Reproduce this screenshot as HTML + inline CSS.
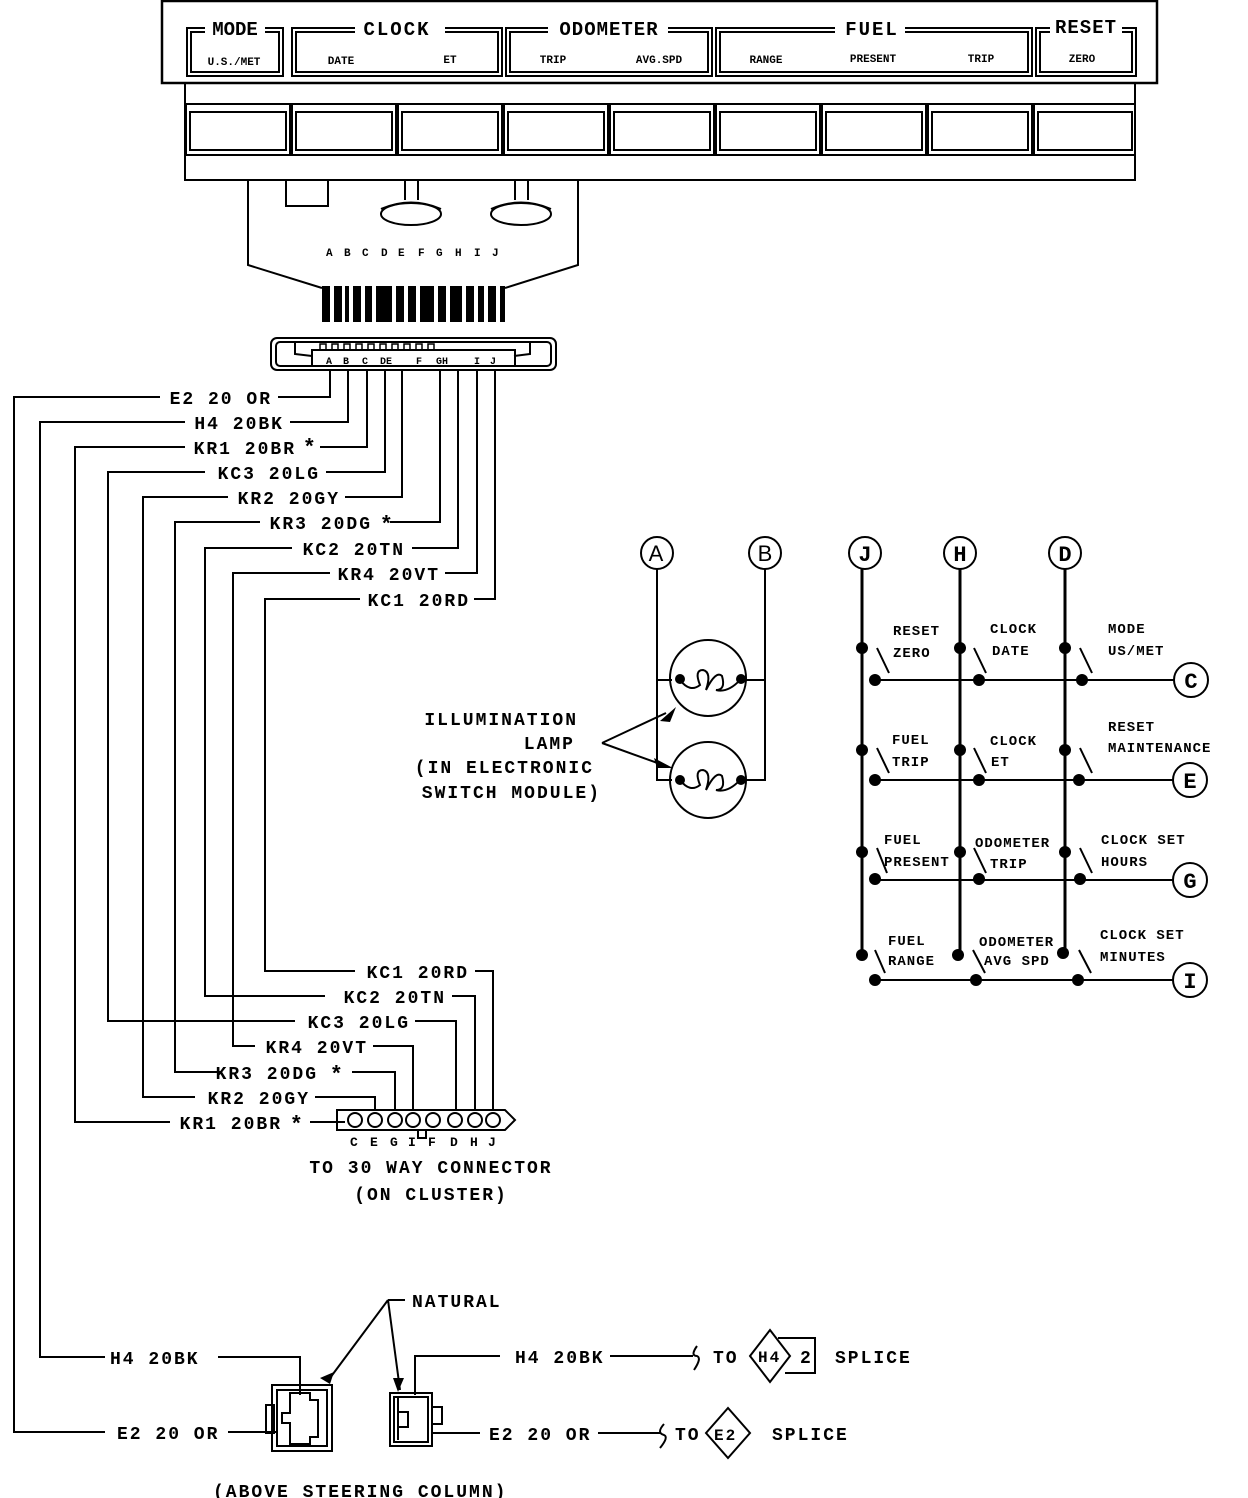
<!DOCTYPE html>
<html><head><meta charset="utf-8"><style>
html,body{margin:0;padding:0;background:#fff}
svg{display:block}
text{font-family:"Liberation Mono",monospace;font-weight:bold;fill:#000}
.w{font-size:18px;letter-spacing:2px}
.s{font-size:14px;letter-spacing:1px}
.t{font-size:11px}
</style></head><body>
<svg width="1248" height="1498" viewBox="0 0 1248 1498" xmlns="http://www.w3.org/2000/svg" stroke="#000" fill="none" stroke-width="2">
<!-- top label panel -->
<rect x="162" y="1" width="995" height="82" stroke-width="2.5"/>
<g stroke-width="2">
<rect x="187" y="28" width="96" height="48"/><rect x="191" y="32" width="88" height="40"/>
<rect x="292" y="28" width="210" height="48"/><rect x="296" y="32" width="202" height="40"/>
<rect x="506" y="28" width="206" height="48"/><rect x="510" y="32" width="198" height="40"/>
<rect x="716" y="28" width="316" height="48"/><rect x="720" y="32" width="308" height="40"/>
<rect x="1036" y="28" width="100" height="48"/><rect x="1040" y="32" width="92" height="40"/>
</g>
<g stroke="none">
<rect x="205" y="20" width="60" height="16" fill="#fff"/>
<rect x="355" y="20" width="90" height="16" fill="#fff"/>
<rect x="548" y="20" width="120" height="16" fill="#fff"/>
<rect x="835" y="20" width="70" height="16" fill="#fff"/>
<rect x="1050" y="14" width="72" height="22" fill="#fff"/>
</g>
<text x="235" y="35" text-anchor="middle" style="font-size:19px" stroke="none">MODE</text>
<text x="397" y="35" text-anchor="middle" style="font-size:19px;letter-spacing:2px" stroke="none">CLOCK</text>
<text x="609" y="35" text-anchor="middle" style="font-size:19px;letter-spacing:1px" stroke="none">ODOMETER</text>
<text x="872" y="35" text-anchor="middle" style="font-size:19px;letter-spacing:2px" stroke="none">FUEL</text>
<text x="1086" y="33" text-anchor="middle" style="font-size:19px;letter-spacing:1px" stroke="none">RESET</text>
<g class="t" stroke="none">
<text x="234" y="65" text-anchor="middle" class="t">U.S./MET</text>
<text x="341" y="64" text-anchor="middle" class="t">DATE</text>
<text x="450" y="63" text-anchor="middle" class="t">ET</text>
<text x="553" y="63" text-anchor="middle" class="t">TRIP</text>
<text x="659" y="63" text-anchor="middle" class="t">AVG.SPD</text>
<text x="766" y="63" text-anchor="middle" class="t">RANGE</text>
<text x="873" y="62" text-anchor="middle" class="t">PRESENT</text>
<text x="981" y="62" text-anchor="middle" class="t">TRIP</text>
<text x="1082" y="62" text-anchor="middle" class="t">ZERO</text>
</g>
<!-- button row -->
<line x1="185" y1="84" x2="185" y2="180"/><line x1="1135" y1="84" x2="1135" y2="180"/>
<rect x="185" y="155" width="950" height="25"/>
<g>
<rect x="186" y="104" width="104" height="51"/><rect x="190" y="112" width="96" height="38"/>
<rect x="292" y="104" width="104" height="51"/><rect x="296" y="112" width="96" height="38"/>
<rect x="398" y="104" width="104" height="51"/><rect x="402" y="112" width="96" height="38"/>
<rect x="504" y="104" width="104" height="51"/><rect x="508" y="112" width="96" height="38"/>
<rect x="610" y="104" width="104" height="51"/><rect x="614" y="112" width="96" height="38"/>
<rect x="716" y="104" width="104" height="51"/><rect x="720" y="112" width="96" height="38"/>
<rect x="822" y="104" width="104" height="51"/><rect x="826" y="112" width="96" height="38"/>
<rect x="928" y="104" width="104" height="51"/><rect x="932" y="112" width="96" height="38"/>
<rect x="1034" y="104" width="101" height="51"/><rect x="1038" y="112" width="94" height="38"/>
</g>
<!-- lower body -->
<path d="M248 180 V265 L322 288 M578 180 V265 L505 288"/>
<rect x="286" y="180" width="42" height="26"/>
<line x1="405" y1="180" x2="405" y2="200"/><line x1="418" y1="180" x2="418" y2="200"/>
<line x1="515" y1="180" x2="515" y2="200"/><line x1="528" y1="180" x2="528" y2="200"/>
<ellipse cx="411" cy="214" rx="30" ry="11"/><path d="M381 209 Q411 196 441 209"/>
<ellipse cx="521" cy="214" rx="30" ry="11"/><path d="M491 209 Q521 196 551 209"/>
<g stroke="none" style="font-size:11px">
<text x="326" y="256">A</text><text x="344" y="256">B</text><text x="362" y="256">C</text><text x="381" y="256">D</text><text x="398" y="256">E</text><text x="418" y="256">F</text><text x="436" y="256">G</text><text x="455" y="256">H</text><text x="474" y="256">I</text><text x="492" y="256">J</text>
</g>
<g fill="#000" stroke="none">
<rect x="322" y="286" width="8" height="36"/><rect x="334" y="286" width="8" height="36"/><rect x="345" y="286" width="4" height="36"/>
<rect x="353" y="286" width="8" height="36"/><rect x="365" y="286" width="7" height="36"/><rect x="376" y="286" width="16" height="36"/>
<rect x="396" y="286" width="8" height="36"/><rect x="408" y="286" width="8" height="36"/><rect x="420" y="286" width="14" height="36"/>
<rect x="438" y="286" width="8" height="36"/><rect x="450" y="286" width="12" height="36"/><rect x="466" y="286" width="8" height="36"/><rect x="478" y="286" width="6" height="36"/><rect x="488" y="286" width="8" height="36"/><rect x="500" y="286" width="5" height="36"/>
</g>
<!-- connector -->
<rect x="271" y="338" width="285" height="32" rx="6"/>
<rect x="276" y="342" width="275" height="24" rx="4"/>
<path d="M295 342 V354 L312 356 M530 342 V354 L514 356"/>
<path d="M312 366 V350 H515 V366"/>
<path d="M320 350 V344 h6 v6 m6 0 v-6 h6 v6 m6 0 v-6 h6 v6 m6 0 v-6 h6 v6 m6 0 v-6 h6 v6 m6 0 v-6 h6 v6 m6 0 v-6 h6 v6 m6 0 v-6 h6 v6 m6 0 v-6 h6 v6 m6 0 v-6 h6 v6" stroke-width="1.5"/>
<g stroke="none" style="font-size:10px"><text x="326" y="364">A</text><text x="343" y="364">B</text><text x="362" y="364">C</text><text x="380" y="364">DE</text><text x="416" y="364">F</text><text x="436" y="364">GH</text><text x="474" y="364">I</text><text x="490" y="364">J</text></g>
<!-- upper wires -->
<g stroke-width="2">
<path d="M330 370 V397 H278"/><path d="M160 397 H14 V1432 H105"/>
<path d="M348 370 V422 H290"/><path d="M185 422 H40 V1357 H105"/>
<path d="M367 370 V447 H320"/><path d="M185 447 H75 V1122 H170"/>
<path d="M385 370 V472 H326"/><path d="M205 472 H108 V1021 H295"/>
<path d="M402 370 V497 H345"/><path d="M228 497 H143 V1097 H195"/>
<path d="M440 370 V522 H390"/><path d="M260 522 H175 V1072 H222"/>
<path d="M458 370 V548 H412"/><path d="M292 548 H205 V996 H325"/>
<path d="M477 370 V573 H445"/><path d="M330 573 H233 V1046 H255"/>
<path d="M495 370 V599 H474"/><path d="M360 599 H265 V971 H355"/>
</g>
<g class="w" stroke="none" text-anchor="end">
<text x="272" y="404">E2 20 OR</text>
<text x="284" y="429">H4 20BK</text>
<text x="296" y="454">KR1 20BR</text><text x="318" y="454" style="font-size:22px">*</text>
<text x="320" y="479">KC3 20LG</text>
<text x="340" y="504">KR2 20GY</text>
<text x="372" y="529">KR3 20DG</text><text x="395" y="531" style="font-size:22px">*</text>
<text x="405" y="555">KC2 20TN</text>
<text x="440" y="580">KR4 20VT</text>
<text x="470" y="606">KC1 20RD</text>
</g>
<!-- lower wires -->
<g>
<path d="M475 971 H493 V1110"/><path d="M452 996 H475 V1110"/><path d="M415 1021 H456 V1110"/>
<path d="M373 1046 H413 V1110"/><path d="M352 1072 H395 V1110"/><path d="M315 1097 H375 V1110"/>
<path d="M310 1122 H345"/>
<path d="M337 1110 H505 L515 1120 L505 1130 H337 Z"/>
<circle cx="355" cy="1120" r="7"/><circle cx="375" cy="1120" r="7"/><circle cx="395" cy="1120" r="7"/><circle cx="413" cy="1120" r="7"/><circle cx="433" cy="1120" r="7"/><circle cx="455" cy="1120" r="7"/><circle cx="475" cy="1120" r="7"/><circle cx="493" cy="1120" r="7"/>
<path d="M418 1130 v8 h8 v-8"/>
</g>
<g class="w" stroke="none" text-anchor="end">
<text x="469" y="978">KC1 20RD</text>
<text x="446" y="1003">KC2 20TN</text>
<text x="410" y="1028">KC3 20LG</text>
<text x="368" y="1053">KR4 20VT</text>
<text x="318" y="1079">KR3 20DG</text><text x="345" y="1081" style="font-size:22px">*</text>
<text x="310" y="1104">KR2 20GY</text>
<text x="282" y="1129">KR1 20BR</text><text x="305" y="1131" style="font-size:22px">*</text>
</g>
<g stroke="none" style="font-size:13px"><text x="350" y="1146">C</text><text x="370" y="1146">E</text><text x="390" y="1146">G</text><text x="408" y="1146">I</text><text x="428" y="1146">F</text><text x="450" y="1146">D</text><text x="470" y="1146">H</text><text x="488" y="1146">J</text></g>
<text class="w" x="431" y="1173" text-anchor="middle" stroke="none">TO 30 WAY CONNECTOR</text>
<text class="w" x="431" y="1200" text-anchor="middle" stroke="none">(ON CLUSTER)</text>
<!-- lamps -->
<g>
<circle cx="657" cy="553" r="16"/><circle cx="765" cy="553" r="16"/>
<path d="M657 569 V780 H672 M657 680 H672"/><path d="M765 569 V780 H745 M765 680 H745"/>
<circle cx="708" cy="678" r="38"/><circle cx="708" cy="780" r="38"/>
<path d="M680 680 Q690 693 700 685 Q694 670 703 670 Q712 672 706 690 Q716 670 722 676 Q726 690 716 690 Q728 693 740 680"/>
<path d="M680 780 Q690 793 700 785 Q694 770 703 770 Q712 772 706 790 Q716 770 722 776 Q726 790 716 790 Q728 793 740 780"/>
<path d="M602 743 L666 713 M602 743 L663 765"/>
</g>
<g fill="#000" stroke="none">
<circle cx="680" cy="679" r="5"/><circle cx="741" cy="679" r="5"/><circle cx="680" cy="780" r="5"/><circle cx="741" cy="780" r="5"/>
<path d="M676 707 L660 721 L670 722 Z"/><path d="M673 768 L654 758 L657 768 Z"/>
</g>
<text x="656" y="561" text-anchor="middle" style="font-size:22px;font-family:'Liberation Sans',sans-serif;font-weight:normal" stroke="none">A</text>
<text x="765" y="561" text-anchor="middle" style="font-size:22px;font-family:'Liberation Sans',sans-serif;font-weight:normal" stroke="none">B</text>
<g class="w" stroke="none" text-anchor="end">
<text x="578" y="725">ILLUMINATION</text><text x="575" y="749">LAMP</text>
<text x="594" y="773">(IN ELECTRONIC</text><text x="601" y="798">SWITCH MODULE)</text>
</g>
<!-- matrix -->
<g>
<circle cx="865" cy="553" r="16"/><circle cx="960" cy="553" r="16"/><circle cx="1065" cy="553" r="16"/>
<circle cx="1191" cy="680" r="17"/><circle cx="1190" cy="780" r="17"/><circle cx="1190" cy="880" r="17"/><circle cx="1190" cy="980" r="17"/>
<path d="M862 569 V955 M960 569 V955 M1065 569 V950" stroke-width="3"/>
<path d="M875 680 H1174 M875 780 H1173 M875 880 H1173 M872 980 H1173"/>
<path d="M877 648 L889 673 M974 648 L986 673 M1080 648 L1092 673"/>
<path d="M877 748 L889 773 M974 748 L986 773 M1080 748 L1092 773"/>
<path d="M877 848 L887 873 M974 848 L986 873 M1080 848 L1092 873"/>
<path d="M875 950 L885 973 M973 950 L985 973 M1079 950 L1091 973"/>
</g>
<g fill="#000" stroke="none">
<circle cx="862" cy="648" r="6"/><circle cx="960" cy="648" r="6"/><circle cx="1065" cy="648" r="6"/>
<circle cx="875" cy="680" r="6"/><circle cx="979" cy="680" r="6"/><circle cx="1082" cy="680" r="6"/>
<circle cx="862" cy="750" r="6"/><circle cx="960" cy="750" r="6"/><circle cx="1065" cy="750" r="6"/>
<circle cx="875" cy="780" r="6"/><circle cx="979" cy="780" r="6"/><circle cx="1079" cy="780" r="6"/>
<circle cx="862" cy="852" r="6"/><circle cx="960" cy="852" r="6"/><circle cx="1065" cy="852" r="6"/>
<circle cx="875" cy="879" r="6"/><circle cx="979" cy="879" r="6"/><circle cx="1080" cy="879" r="6"/>
<circle cx="862" cy="955" r="6"/><circle cx="958" cy="955" r="6"/><circle cx="1063" cy="953" r="6"/>
<circle cx="875" cy="980" r="6"/><circle cx="976" cy="980" r="6"/><circle cx="1078" cy="980" r="6"/>
</g>
<g stroke="none" style="font-size:22px;font-family:'Liberation Sans',sans-serif" text-anchor="middle">
<text x="865" y="561">J</text><text x="960" y="561">H</text><text x="1065" y="561">D</text>
<text x="1191" y="688">C</text><text x="1190" y="788">E</text><text x="1190" y="888">G</text><text x="1190" y="988">I</text>
</g>
<g class="s" stroke="none">
<text x="893" y="635">RESET</text><text x="893" y="657">ZERO</text>
<text x="990" y="633">CLOCK</text><text x="992" y="655">DATE</text>
<text x="1108" y="633">MODE</text><text x="1108" y="655">US/MET</text>
<text x="892" y="744">FUEL</text><text x="892" y="766">TRIP</text>
<text x="990" y="745">CLOCK</text><text x="991" y="766">ET</text>
<text x="1108" y="731">RESET</text><text x="1108" y="752">MAINTENANCE</text>
<text x="884" y="844">FUEL</text><text x="884" y="866">PRESENT</text>
<text x="975" y="847">ODOMETER</text><text x="990" y="868">TRIP</text>
<text x="1101" y="844">CLOCK SET</text><text x="1101" y="866">HOURS</text>
<text x="888" y="945">FUEL</text><text x="888" y="965">RANGE</text>
<text x="979" y="946">ODOMETER</text><text x="984" y="965">AVG SPD</text>
<text x="1100" y="939">CLOCK SET</text><text x="1100" y="961">MINUTES</text>
</g>
<!-- bottom connectors -->
<g>
<path d="M218 1357 H300 V1395"/>
<path d="M228 1432 H278"/>
<rect x="272" y="1385" width="60" height="66"/><rect x="277" y="1390" width="50" height="56"/>
<rect x="266" y="1405" width="8" height="28"/>
<path d="M290 1393 H310 V1400 H318 V1437 H310 V1444 H290 V1423 H282 V1413 H290 Z"/>
<path d="M415 1395 V1356 H500"/>
<rect x="390" y="1393" width="42" height="53"/><rect x="394" y="1397" width="34" height="45"/>
<path d="M432 1407 H442 V1424 H432"/>
<path d="M398 1397 V1440 M398 1412 H408 V1427 H398"/>
<path d="M432 1433 H480"/>
<path d="M388 1300 L330 1378 M388 1300 L400 1390 M388 1300 H405"/>
<path d="M610 1356 H693 M598 1433 H660"/>
<path d="M697 1346 Q690 1356 697 1356 Q702 1358 694 1370"/>
<path d="M664 1424 Q656 1433 664 1435 Q669 1437 660 1448"/>
<path d="M750 1356 L770 1330 L790 1356 L770 1382 Z"/>
<path d="M778 1338 H815 V1373 H785"/>
<path d="M706 1433 L728 1408 L750 1433 L728 1458 Z"/>
</g>
<g fill="#000" stroke="none">
<path d="M334 1372 L320 1378 L330 1384 Z"/><path d="M398 1392 L393 1378 L404 1378 Z"/>
</g>
<g class="w" stroke="none">
<text x="110" y="1364">H4 20BK</text>
<text x="117" y="1439">E2 20 OR</text>
<text x="412" y="1307">NATURAL</text>
<text x="515" y="1363">H4 20BK</text>
<text x="489" y="1440">E2 20 OR</text>
<text x="713" y="1363">TO</text><text x="758" y="1362" style="font-size:16px">H4</text><text x="800" y="1363">2</text><text x="835" y="1363">SPLICE</text>
<text x="675" y="1440">TO</text><text x="714" y="1440" style="font-size:16px">E2</text><text x="772" y="1440">SPLICE</text>
<text x="213" y="1497">(ABOVE STEERING COLUMN)</text>
</g>
</svg>
</body></html>
